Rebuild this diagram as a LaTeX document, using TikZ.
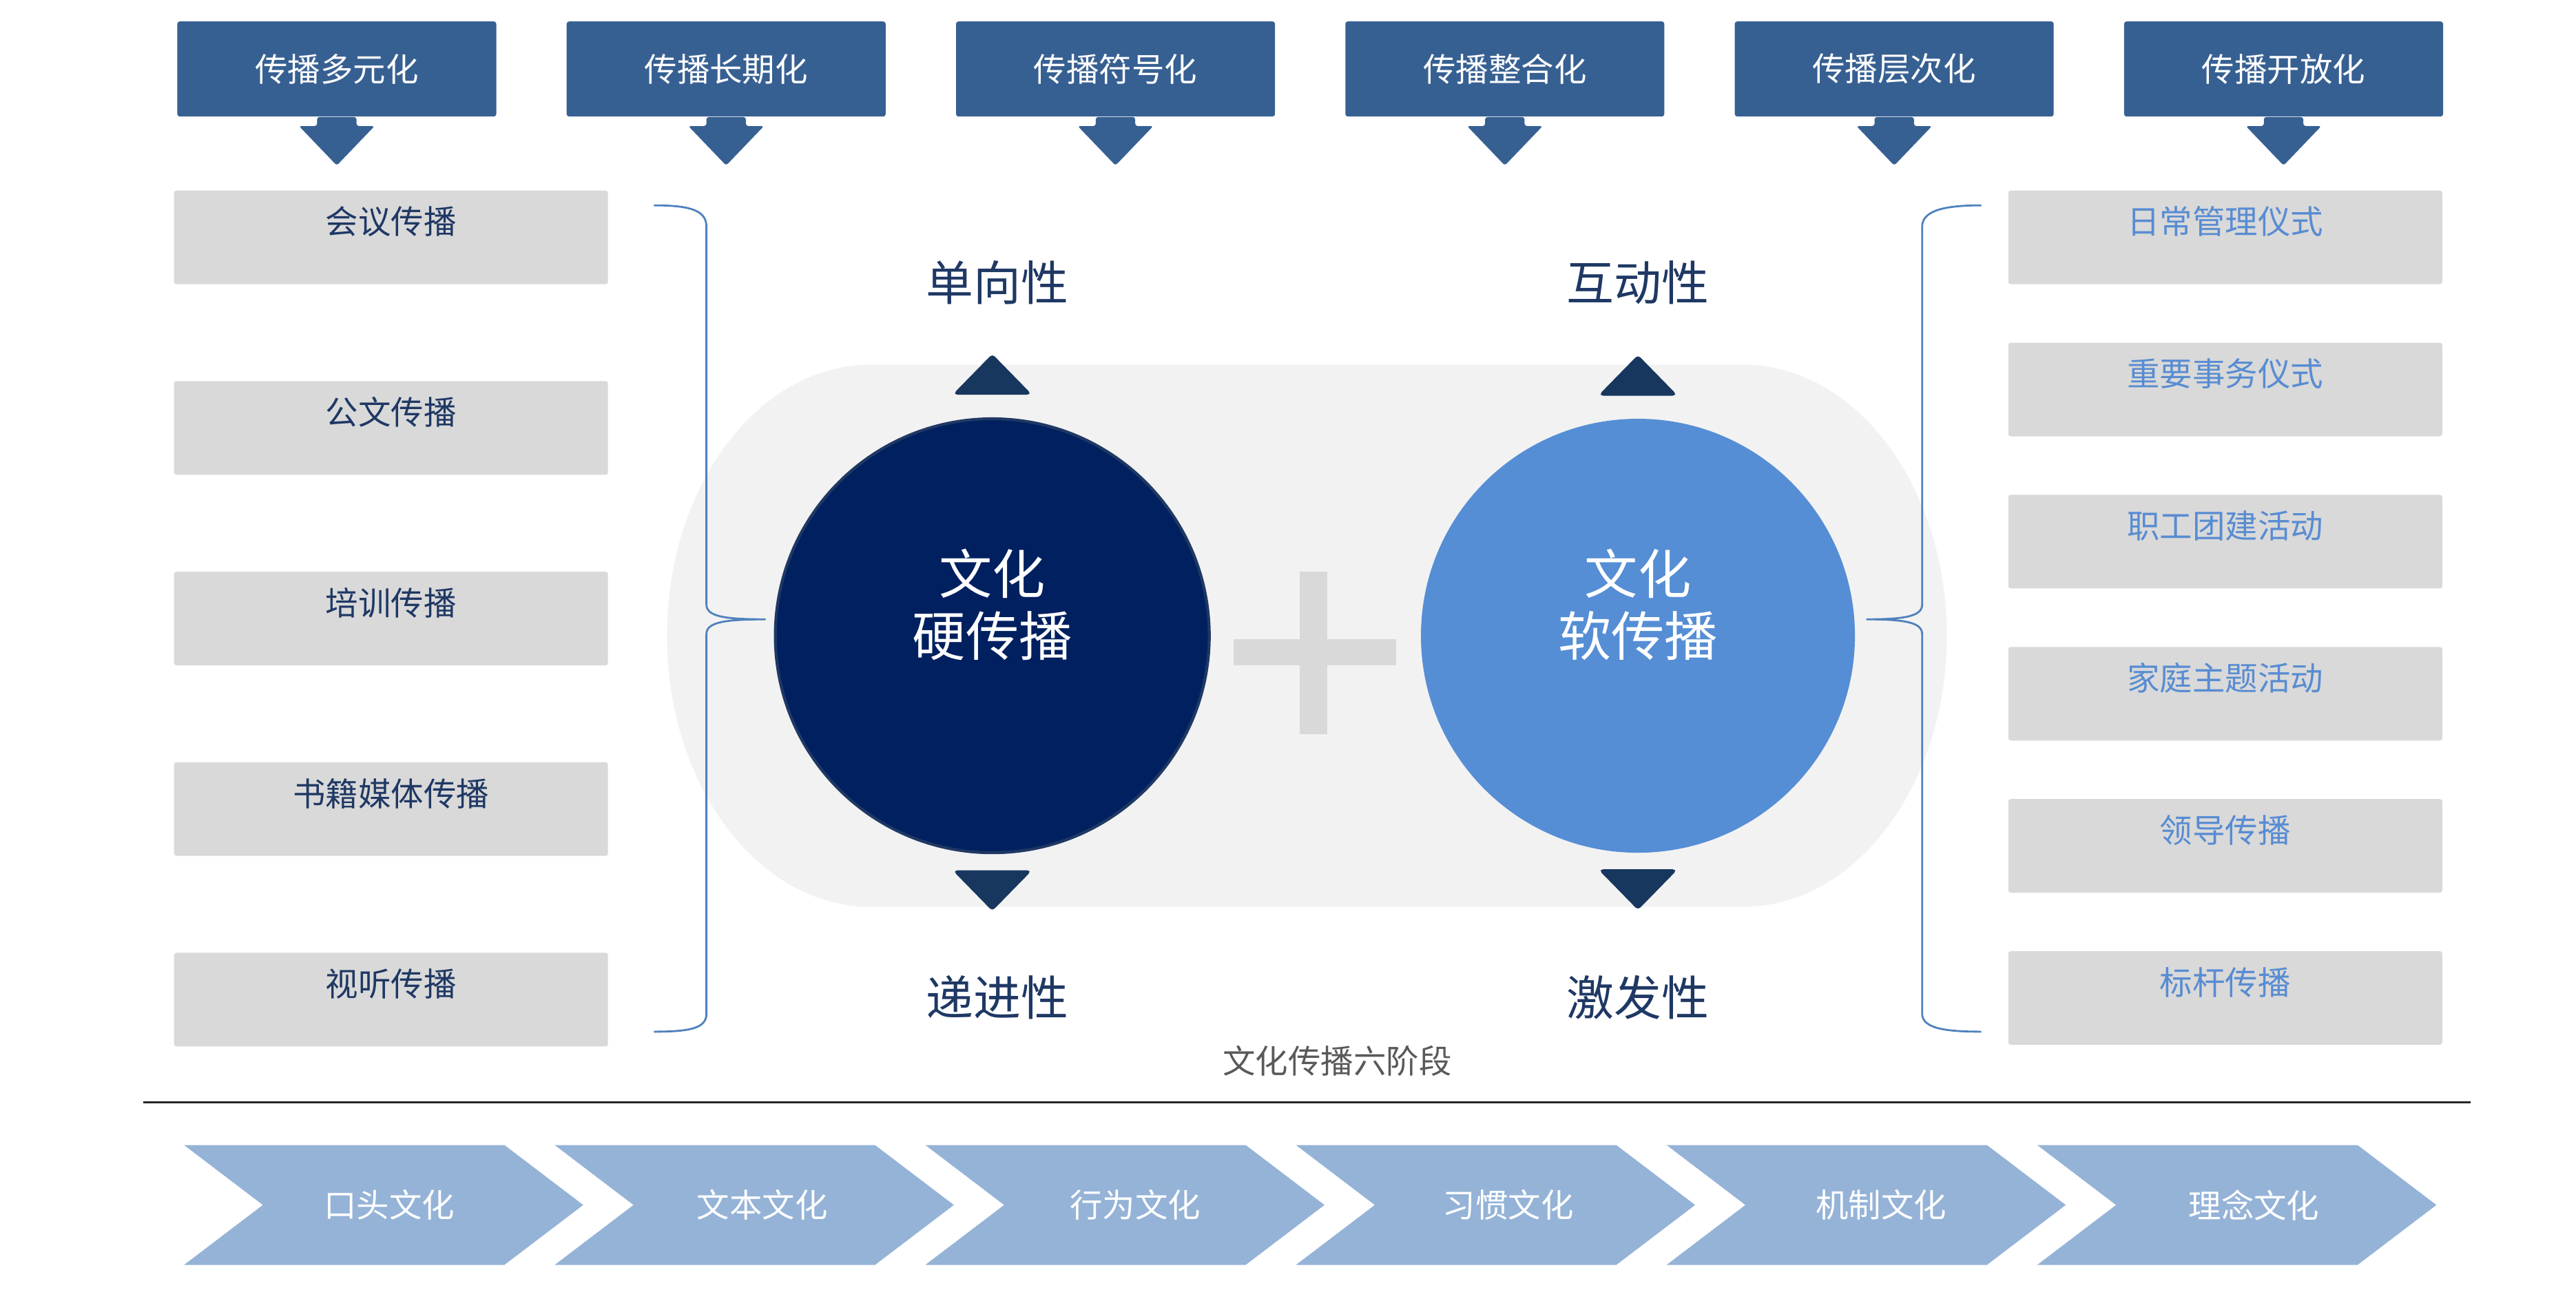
\documentclass[tikz,border=0pt]{standalone}
\usepackage{fontspec}
\setmainfont{Noto Sans CJK SC}
\usetikzlibrary{calc}
\definecolor{topblue}{RGB}{55,96,146}
\definecolor{boxgray}{RGB}{217,217,217}
\definecolor{navytext}{RGB}{31,56,100}
\definecolor{lighttext}{RGB}{88,140,210}
\definecolor{bracecol}{RGB}{79,129,189}
\definecolor{stadiumgray}{RGB}{242,242,242}
\definecolor{hardblue}{RGB}{0,32,96}
\definecolor{hardedge}{RGB}{31,56,100}
\definecolor{softblue}{RGB}{85,142,213}
\definecolor{tricol}{RGB}{23,55,94}
\definecolor{chevcol}{RGB}{149,179,215}
\definecolor{capgray}{RGB}{89,89,89}

\begin{document}
\begin{tikzpicture}[x=0.02385cm, y=-0.02385cm,
  topbox/.style={fill=topblue, text=white, minimum width=4.63cm, minimum height=1.38cm, rounded corners=1pt, font=\fontsize{13.5}{16}\selectfont},
  sidebox/.style={fill=boxgray, minimum width=6.3cm, inner ysep=0pt, text height=0.633cm, text depth=0.727cm, rounded corners=1pt, font=\fontsize{13.5}{16}\selectfont},
  ball/.style={circle, minimum size=6.3cm, inner sep=0pt},
  balltext/.style={text=white, align=center, font=\fontsize{22}{25.7}\selectfont},
  trait/.style={text=navytext, font=\fontsize{19.6}{22}\selectfont},
  brace/.style={draw=bracecol, line width=0.8pt},
  tri/.style={fill=tricol, draw=tricol, line width=1pt, rounded corners=1pt}]
\useasboundingbox (0,0) rectangle (1568,785);

\foreach \t [count=\i, evaluate=\i as \cx using 205+237*(\i-1)] in {传播多元化,传播长期化,传播符号化,传播整合化,传播层次化,传播开放化} {
  \node[topbox] (top\i) at (\cx,42) {\t};
  \fill[topblue, rounded corners=1pt] (top\i.south) ++(-12,0) -- ++(0,5.5) -- ++(-11,0) -- ++(23,24) -- ++(23,-24) -- ++(-11,0) -- ++(0,-5.5) -- cycle;
}

\foreach \t [count=\i, evaluate=\i as \cy using 144.5+116*(\i-1)] in {会议传播,公文传播,培训传播,书籍媒体传播,视听传播}
  \node[sidebox, text=navytext] (left\i) at (238,\cy) {\t};
\foreach \t [count=\i, evaluate=\i as \cy using 144.5+92.6*(\i-1)] in {日常管理仪式,重要事务仪式,职工团建活动,家庭主题活动,领导传播,标杆传播}
  \node[sidebox, text=lighttext] (right\i) at (1354.5,\cy) {\t};

\fill[stadiumgray] (530,222) -- (1061,222) .. controls (1129.5,222) and (1185,295.9) .. (1185,387) .. controls (1185,478.1) and (1129.5,552) .. (1061,552) -- (530,552) .. controls (461.5,552) and (406,478.1) .. (406,387) .. controls (406,295.9) and (461.5,222) .. (530,222) -- cycle;

\draw[brace] (398,125) .. controls (420,125) and (430,128) .. (430,138) -- (430,368) .. controls (430,375) and (440,377) .. (466,377) .. controls (440,377) and (430,379) .. (430,386) -- (430,617) .. controls (430,626) and (420,628) .. (398,628);
\draw[brace] (1206,125) .. controls (1184,125) and (1170,128) .. (1170,138) -- (1170,368) .. controls (1170,375) and (1160,377) .. (1136,377) .. controls (1160,377) and (1170,379) .. (1170,386) -- (1170,617) .. controls (1170,626) and (1184,628) .. (1206,628);

\fill[boxgray] (751,389) rectangle (850,405);
\fill[boxgray] (791,348) rectangle (808,447);

\node[ball, fill=hardblue, draw=hardedge, line width=1.2pt] (hard) at (604,387) {};
\node[ball, fill=softblue] (soft) at (997,387) {};
\node[balltext] (hardtext) at ([yshift=0.45cm]hard.center) {文化\\硬传播};
\node[balltext] (softtext) at ([yshift=0.45cm]soft.center) {文化\\软传播};

\foreach \c in {hard,soft} {
  \fill[tri] ($(\c.north)+(-22.5,-14.5)$) -- ++(22.5,-23) -- ++(22.5,23) -- cycle;
  \fill[tri] ($(\c.south)+(-22.5,10.5)$) -- ++(22.5,23) -- ++(22.5,-23) -- cycle;
}

\node[trait] (oneway) at (607,172) {单向性};
\node[trait] (interact) at (997,172) {互动性};
\node[trait] (progress) at (607,607) {递进性};
\node[trait] (inspire) at (997,607) {激发性};

\node[text=capgray, font=\fontsize{13.5}{16}\selectfont] (caption) at (814,646) {文化传播六阶段};
\draw[black!85, line width=1pt] (87,671) -- (1504,671);

\foreach \t [count=\i, evaluate=\i as \l using 112+225.6*(\i-1), evaluate=\i as \tx using 237+227*(\i-1)] in {口头文化,文本文化,行为文化,习惯文化,机制文化,理念文化} {
  \fill[chevcol] (\l,697) -- ++(195,0) -- ++(48,36.5) -- ++(-48,36.5) -- ++(-195,0) -- ++(48,-36.5) -- cycle;
  \node[text=white, font=\fontsize{13.5}{16}\selectfont] (stage\i) at (\tx,733.5) {\t};
}

\end{tikzpicture}
\end{document}
